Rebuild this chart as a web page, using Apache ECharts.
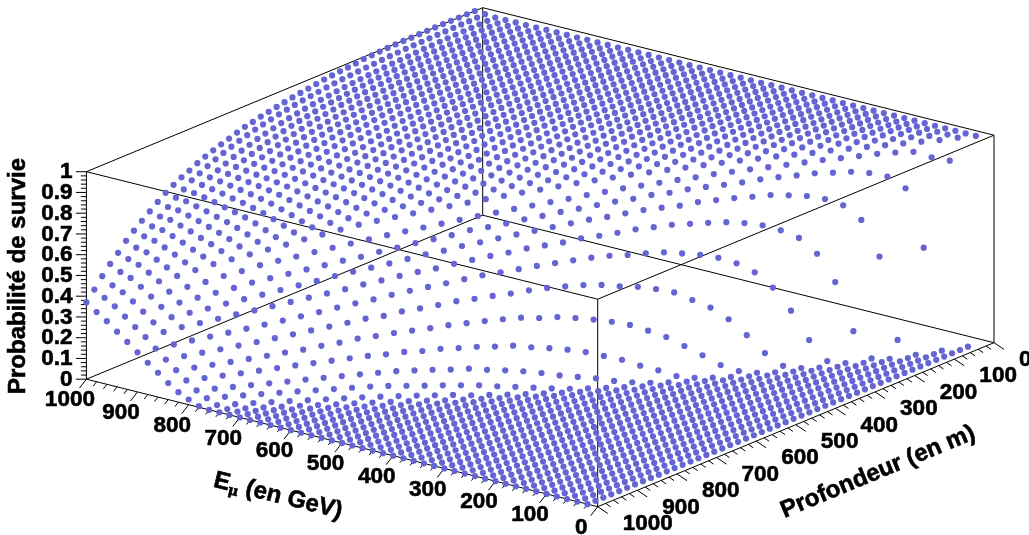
<!DOCTYPE html>
<html><head><meta charset="utf-8">
<style>html,body{margin:0;padding:0;background:#fff}#c{width:1029px;height:535px}</style>
<script src="https://cdn.jsdelivr.net/npm/echarts@6/dist/echarts.min.js"></script>
</head><body><div id="c"></div>
<script>
// Depth bins (m) and muon-energy bins (GeV): 20,40,...,1000
const gridStep = 20;
const energyTicks = [0,100,200,300,400,500,600,700,800,900,1000];
const depthTicks = [0,100,200,300,400,500,600,700,800,900,1000];
const probTicks = ['0','0.1','0.2','0.3','0.4','0.5','0.6','0.7','0.8','0.9','1'];
// Survival probability x1000. One row per energy (20..1000 GeV), one value per depth (20,40,... m); depths past the end of a row read 0.
const survival = [
[1000],
[1000,995,900],
[1000,998,987,920,500],
[1000,999,995,983,950,790,75],
[1000,1000,998,992,978,950,850,480,5],
[1000,1000,999,995,987,973,947,870,660,140,2],
[1000,1000,999,997,992,983,968,940,880,734,380,15],
[1000,999,998,996,993,988,979,963,933,879,768,520,120,1],
[1000,999,998,997,994,991,985,975,958,928,880,786,600,265,15],
[1000,999,998,997,995,992,987,980,968,950,920,873,793,640,380,80,1],
[999,999,998,997,995,993,990,984,976,964,945,912,868,798,668,457,170,13],
[999,999,998,997,996,994,991,987,981,972,959,940,904,861,793,682,504,250,45],
[999,999,998,997,996,994,992,988,983,976,967,953,933,897,850,790,690,534,310,96,3],
[999,999,998,997,996,995,993,990,986,980,972,962,947,927,889,842,784,690,552,350,144,15],
[999,999,998,997,996,995,993,990,987,982,976,968,956,941,920,881,835,778,689,562,390,191,46,2],
[999,998,998,997,996,995,993,991,988,984,979,972,962,950,934,912,869,827,764,688,571,410,225,72,8],
[999,998,998,997,996,995,993,991,989,985,981,975,967,957,944,927,904,860,814,758,680,570,424,256,104,18],
[999,998,998,997,996,995,994,992,989,986,982,977,971,962,951,937,919,896,850,807,750,673,565,430,275,126,34,1],
[999,998,998,997,996,995,994,992,990,987,984,979,973,966,957,945,931,912,888,840,792,738,660,565,440,289,148,44,3],
[999,998,998,997,996,995,994,992,990,988,984,980,975,969,961,952,939,924,904,880,830,782,724,649,559,443,300,163,55,8],
[999,998,998,997,996,995,994,992,990,988,985,982,977,972,965,956,945,932,916,895,870,817,769,714,640,550,440,308,174,70,15],
[998,998,997,997,996,995,994,992,991,988,986,982,978,973,967,960,950,939,925,907,886,860,805,755,700,624,540,436,307,182,82,23,1],
[998,998,997,997,996,995,994,992,991,989,986,983,979,975,969,963,954,944,932,917,899,877,850,790,743,686,613,530,428,312,193,90,29,3],
[998,998,997,996,996,995,994,992,991,989,986,983,980,976,971,965,957,948,937,924,908,889,866,838,778,727,671,602,518,416,308,192,96,37,5],
[998,997,997,996,995,995,993,992,990,989,986,984,980,976,972,966,959,951,942,930,916,899,879,855,826,765,714,657,586,506,408,303,195,105,41,10],
[998,997,997,996,995,994,993,992,990,989,986,984,981,977,973,968,961,954,945,935,923,908,890,869,845,815,752,698,642,573,495,398,296,192,104,44,12,2],
[998,997,997,996,995,994,993,992,991,989,987,984,981,978,974,969,963,957,949,939,928,915,899,881,859,834,803,738,684,626,557,480,390,290,192,107,46,14,3],
[998,997,997,996,995,994,993,992,990,989,987,984,982,978,975,970,965,959,951,943,933,921,907,890,871,848,821,790,725,673,612,542,464,375,279,185,107,49,15,3],
[997,997,996,996,995,994,993,992,990,989,987,985,982,979,975,971,966,960,953,946,936,926,913,898,881,861,837,809,777,710,652,593,523,450,362,271,184,107,52,16,3],
[997,997,996,996,995,994,993,992,990,989,987,985,982,979,976,972,967,962,956,948,940,930,919,905,890,871,850,826,797,764,695,636,579,510,435,351,263,176,103,52,16,3],
[997,997,996,995,995,994,993,991,990,988,987,984,982,979,976,972,968,963,957,950,942,933,922,910,896,880,861,839,813,784,750,680,621,560,494,419,333,252,172,99,50,15,2],
[997,996,996,995,994,993,992,991,990,988,987,984,982,979,976,973,968,964,958,952,944,936,926,915,902,887,870,850,827,801,771,736,665,602,542,476,400,323,243,164,94,47,14,2],
[997,997,996,995,994,993,992,991,990,989,987,985,983,980,977,974,970,965,960,954,947,939,930,920,908,894,879,861,840,816,789,758,722,650,586,525,460,385,307,227,156,89,45,13,2],
[997,996,996,995,994,993,992,991,990,988,986,984,982,980,977,974,970,965,960,955,948,941,933,923,912,899,885,869,850,828,804,776,744,707,633,565,509,441,368,292,215,148,84,43,12,1],
[997,996,996,995,994,993,992,991,990,988,987,985,983,980,977,974,970,966,962,956,950,943,935,926,916,905,891,876,859,839,817,792,763,730,692,617,550,492,424,350,277,200,140,78,40,11,1],
[996,996,995,994,994,993,992,991,989,988,986,984,982,980,977,974,971,967,962,957,951,944,937,928,919,908,895,881,865,847,826,802,776,745,711,672,600,532,472,407,333,262,190,131,73,37,10],
[996,995,995,994,993,992,992,990,989,988,986,984,982,980,977,974,971,967,962,957,952,945,938,930,921,910,899,885,870,853,834,812,788,760,728,692,652,583,515,454,390,316,247,178,122,68,34,8],
[996,995,994,994,993,992,991,990,989,987,986,984,982,979,977,974,971,967,963,958,952,946,939,932,923,913,902,889,875,859,841,821,798,772,743,711,674,632,565,497,435,373,300,232,166,113,63,31,7],
[996,995,994,993,993,992,991,990,988,987,985,983,981,979,976,973,970,966,962,957,952,946,940,932,924,914,904,892,878,863,846,827,806,782,755,725,691,653,610,548,480,416,356,284,218,155,105,58,28,5],
[995,994,994,993,992,991,990,989,988,986,985,983,981,978,976,973,970,966,962,957,952,946,940,933,925,916,906,894,882,868,852,834,814,792,767,739,708,673,634,590,530,462,398,340,268,204,145,97,53,25],
[995,994,994,993,992,991,990,989,988,986,985,983,981,979,976,973,970,967,963,958,953,948,942,935,927,919,909,899,887,873,858,842,823,802,779,753,724,692,655,615,570,505,440,380,323,253,191,135,89,48],
[995,994,994,993,992,991,990,989,988,986,985,983,981,979,976,973,970,967,963,959,954,949,943,936,929,921,912,902,890,878,864,848,831,811,790,766,739,709,675,638,596,550,485,420,360,306,238,178,126,80],
[995,994,993,992,992,991,989,988,987,986,984,982,980,978,975,973,970,966,962,958,954,949,943,936,929,922,913,903,892,880,867,852,836,818,798,775,750,722,692,657,619,577,530,460,400,343,290,222,165,117],
[994,993,993,992,991,990,989,988,987,985,984,982,980,978,975,972,969,966,962,958,954,949,943,937,930,923,914,905,895,883,871,857,841,824,805,783,760,734,705,673,637,598,554,505,440,380,325,270,206,153],
[994,993,993,992,991,990,989,988,986,985,983,981,979,977,975,972,969,966,962,958,954,949,943,937,931,923,915,906,896,885,873,860,845,828,810,790,768,743,716,686,653,616,575,530,480,420,363,304,249,191],
[994,993,992,992,991,990,989,987,986,985,983,981,979,977,975,972,969,966,962,958,954,949,944,938,932,925,917,908,899,888,877,864,850,834,817,798,777,754,729,700,669,635,597,555,509,458,400,343,285,229],
[993,993,992,991,990,989,988,987,986,984,983,981,979,977,974,972,969,966,962,958,954,949,944,939,932,925,918,910,900,890,879,867,854,839,823,805,785,763,739,712,683,651,616,577,534,487,435,380,323,266],
[993,993,992,991,990,989,988,987,985,984,982,980,978,976,974,971,968,965,962,958,954,949,944,939,933,926,919,911,902,892,882,870,857,843,827,810,792,771,748,724,696,666,633,597,557,513,465,412,360,304],
[997,996,995,995,994,993,992,991,990,989,988,986,984,982,979,977,974,971,968,964,960,955,950,945,939,932,925,917,908,899,888,877,864,850,835,818,799,781,753,729,700,670,638,606,567,528,482,433,389,336],
[1000,1000,1000,1000,1000,1000,999,999,998,998,997,996,994,992,990,984,981,978,974,970,964,958,953,947,940,933,925,918,908,900,888,875,863,850,836,820,800,783,763,740,712,682,653,621,588,546,508,465,416,370]
];

// Oblique view of the (energy, depth, probability) box onto the page
const view = {ox:994, oy:342.7, ex:-511.3, ey:-127.5, dx:-396.3, dy:164, pz:-207.5};
function project(e, d, p){
  return [view.ox + view.ex*e/1000 + view.dx*d/1000,
          view.oy + view.ey*e/1000 + view.dy*d/1000 + view.pz*p];
}
const points = [];
survival.forEach((row, i) => {
  for (let j = 0; j < 50; j++) {
    points.push(project((i+1)*gridStep, (j+1)*gridStep, (row[j]||0)/1000));
  }
});

// Box edges
const corners = [[0,0],[0,1000],[1000,1000],[1000,0]];
const segs = [];
function seg(a, b){ segs.push([a[0],a[1],b[0],b[1]]); }
corners.forEach((c,k) => {
  const n = corners[(k+1)%4];
  seg(project(c[0],c[1],0), project(n[0],n[1],0));
  seg(project(c[0],c[1],1), project(n[0],n[1],1));
  seg(project(c[0],c[1],0), project(c[0],c[1],1));
});
// Tick marks: major every 100 / 0.1, minor at a fifth of that
const tickStyle = {eMajor:[-7,9], eMinor:[-3.5,4.5], dMajor:[10,6.7], dMinor:[5,3.4], zMajor:[-10.5,0], zMinor:[-5.5,0]};
function tick(b, o){ segs.push([b[0],b[1],b[0]+o[0],b[1]+o[1]]); }
for (let v = 0; v <= 1000; v += 20) {
  const major = v % 100 === 0;
  tick(project(v,1000,0), major ? tickStyle.eMajor : tickStyle.eMinor);
  tick(project(0,v,0), major ? tickStyle.dMajor : tickStyle.dMinor);
  tick(project(1000,1000,v/1000), major ? tickStyle.zMajor : tickStyle.zMinor);
}

const FONT = '"Liberation Sans", Arial, sans-serif';
const base = {fontFamily:FONT, fontWeight:'bold', fontSize:22.5, color:'#000', textBorderColor:'#000', textBorderWidth:0.6, opacity:1};
const titleFont = Object.assign({}, base, {fontSize:24});
function textItem(pos, text, extra){
  return {value:pos, label:Object.assign({show:true, position:'inside', formatter:text, align:'center', verticalAlign:'middle'}, base, extra||{})};
}
const labels = [];
energyTicks.forEach(v => { const b = project(v,1000,0); labels.push(textItem([b[0]-16.5,b[1]+21], String(v))); });
depthTicks.forEach(v => { const b = project(0,v,0); labels.push(textItem([b[0]+25,b[1]+17], String(v), {align:'left'})); });
probTicks.forEach(v => { const b = project(1000,1000,+v); labels.push(textItem([72.5,b[1]+0.5], v, {align:'right'})); });
labels.push(textItem([18,276], 'Probabilité de survie', Object.assign({rotate:90}, titleFont)));
labels.push(textItem([878,472], 'Profondeur (en m)', Object.assign({rotate:22.5}, titleFont)));
labels.push(textItem([278,496], '{a|E}{b|μ}{a| (en GeV)}', {rotate:-14,
  rich:{a:Object.assign({},titleFont), b:{fontFamily:'"DejaVu Serif", serif', fontSize:14, color:'#000', verticalAlign:'bottom', padding:[13,0,0,0]}}}));

const chart = echarts.init(document.getElementById('c'), null, {renderer:'canvas'});
chart.setOption({
  animation:false,
  backgroundColor:'#fff',
  grid:{left:0,right:0,top:0,bottom:0},
  xAxis:{type:'value',min:0,max:1029,show:false},
  yAxis:{type:'value',min:0,max:535,inverse:true,show:false},
  series:[
    {type:'custom', z:1, silent:true, coordinateSystem:'cartesian2d', data:segs, clip:false,
     encode:{x:[0,2],y:[1,3]},
     renderItem:(params,api)=>{
       const a=api.coord([api.value(0),api.value(1)]), b=api.coord([api.value(2),api.value(3)]);
       return {type:'line',shape:{x1:a[0],y1:a[1],x2:b[0],y2:b[1]},style:{stroke:'#000',lineWidth:1,fill:null}};
     }},
    {type:'scatter', z:2, silent:true, data:points, symbol:'circle', symbolSize:6.2, large:false, progressive:0,
     itemStyle:{color:'#6464d2',opacity:1}},
    {type:'scatter', z:3, silent:true, data:labels, symbolSize:0, progressive:0, itemStyle:{opacity:1}}
  ]
});
</script></body></html>
